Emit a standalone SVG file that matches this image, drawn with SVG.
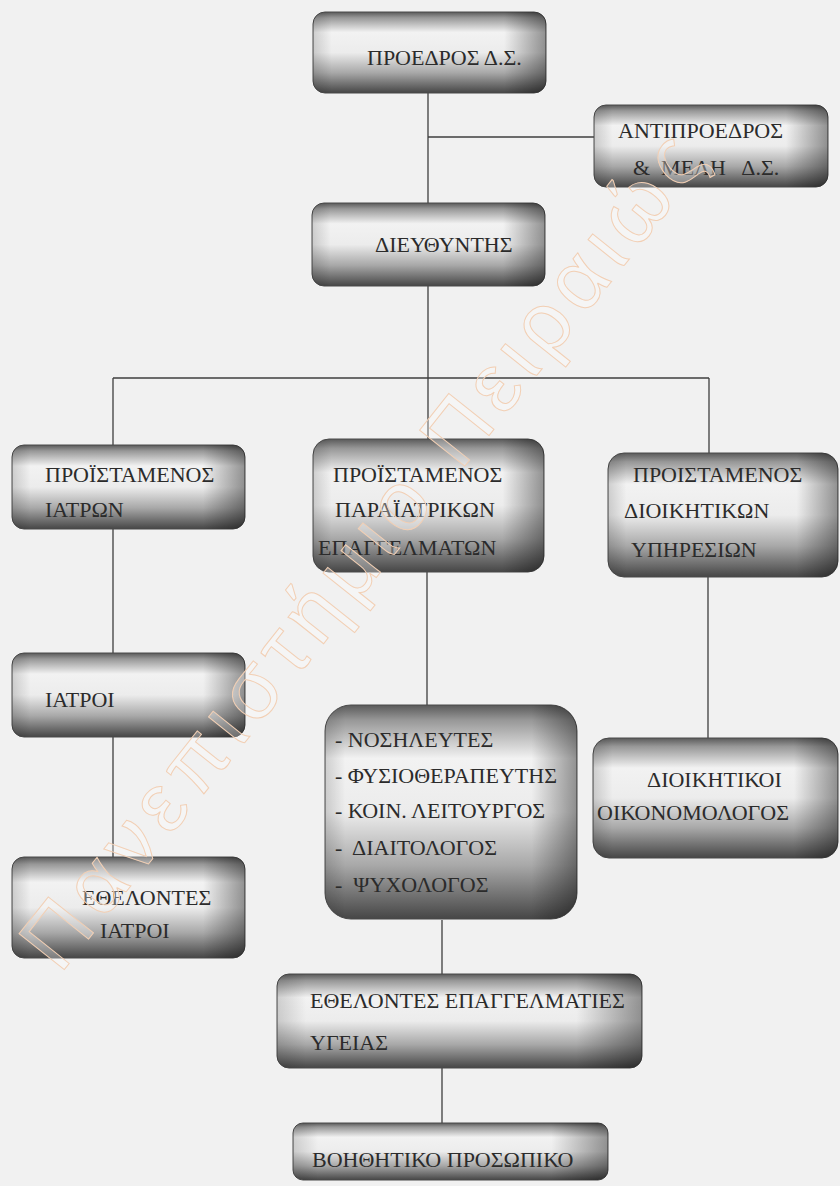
<svg xmlns="http://www.w3.org/2000/svg" width="840" height="1186" viewBox="0 0 840 1186">
<defs>
<linearGradient id="gv" x1="0" y1="0" x2="0" y2="1">
<stop offset="0" stop-color="#5a5a5a"/>
<stop offset="0.07" stop-color="#979797"/>
<stop offset="0.25" stop-color="#f2f2f2"/>
<stop offset="0.5" stop-color="#ececec"/>
<stop offset="0.75" stop-color="#a8a8a8"/>
<stop offset="1" stop-color="#464646"/>
</linearGradient>
<linearGradient id="gh" x1="0" y1="0" x2="1" y2="0">
<stop offset="0" stop-color="#000" stop-opacity="0.15"/>
<stop offset="0.08" stop-color="#000" stop-opacity="0"/>
<stop offset="0.82" stop-color="#000" stop-opacity="0"/>
<stop offset="1" stop-color="#000" stop-opacity="0.4"/>
</linearGradient>
<style>
.bg{fill:url(#gv);stroke:#4a4a4a;stroke-width:1}
.sh{fill:url(#gh)}
.t{font-family:"Liberation Serif","DejaVu Serif",serif;font-size:22px;fill:#2b2b2b;white-space:pre}
.c line{stroke:#3e3e3e;stroke-width:1.3}
.wm{font-family:"Liberation Sans","DejaVu Sans",sans-serif;font-size:84px;fill:#ffffff;fill-opacity:0.3;stroke:#f2cfb4;stroke-width:1}
</style>
</defs>
<rect width="840" height="1186" fill="#f1f1f1"/>

<g class="c" id="connectors">
<line x1="428" y1="93" x2="428" y2="203"/>
<line x1="428" y1="137" x2="594" y2="137"/>
<line x1="428" y1="286" x2="428" y2="378"/>
<line x1="113" y1="378" x2="709" y2="378"/>
<line x1="113" y1="378" x2="113" y2="445"/>
<line x1="428" y1="378" x2="428" y2="439"/>
<line x1="709" y1="378" x2="709" y2="453"/>
<line x1="113" y1="529" x2="113" y2="653"/>
<line x1="113" y1="737" x2="113" y2="857"/>
<line x1="427" y1="572" x2="427" y2="705"/>
<line x1="708" y1="577" x2="708" y2="738"/>
<line x1="442" y1="920" x2="442" y2="974"/>
<line x1="442" y1="1068" x2="442" y2="1123"/>
</g>

<g id="n-proedros">
<rect class="bg" x="313" y="12" width="233" height="81" rx="12"/>
<rect class="sh" x="313" y="12" width="233" height="81" rx="12"/>
<text class="t" x="367" y="65">ΠΡΟΕΔΡΟΣ Δ.Σ.</text>
</g>
<g id="n-antiproedros">
<rect class="bg" x="594" y="105" width="234" height="82" rx="12"/>
<rect class="sh" x="594" y="105" width="234" height="82" rx="12"/>
<text class="t" x="618" y="138">ΑΝΤΙΠΡΟΕΔΡΟΣ</text>
<text class="t" x="633" y="175">&amp;  ΜΕΛΗ   Δ.Σ.</text>
</g>
<g id="n-dieythyntis">
<rect class="bg" x="312" y="203" width="233" height="83" rx="12"/>
<rect class="sh" x="312" y="203" width="233" height="83" rx="12"/>
<text class="t" x="375" y="252">ΔΙΕΥΘΥΝΤΗΣ</text>
</g>
<g id="n-pro-iatron">
<rect class="bg" x="12" y="445" width="233" height="84" rx="12"/>
<rect class="sh" x="12" y="445" width="233" height="84" rx="12"/>
<text class="t" x="45" y="482">ΠΡΟΪΣΤΑΜΕΝΟΣ</text>
<text class="t" x="45" y="517">ΙΑΤΡΩΝ</text>
</g>
<g id="n-pro-paraiatrikon">
<rect class="bg" x="313" y="439" width="231" height="133" rx="16"/>
<rect class="sh" x="313" y="439" width="231" height="133" rx="16"/>
<text class="t" x="333" y="482">ΠΡΟΪΣΤΑΜΕΝΟΣ</text>
<text class="t" x="335" y="517">ΠΑΡΑΪΑΤΡΙΚΩΝ</text>
<text class="t" x="318" y="555">ΕΠΑΓΓΕΛΜΑΤΩΝ</text>
</g>
<g id="n-pro-dioikitikon">
<rect class="bg" x="608" y="453" width="230" height="124" rx="16"/>
<rect class="sh" x="608" y="453" width="230" height="124" rx="16"/>
<text class="t" x="633" y="482">ΠΡΟΙΣΤΑΜΕΝΟΣ</text>
<text class="t" x="624" y="518">ΔΙΟΙΚΗΤΙΚΩΝ</text>
<text class="t" x="631" y="557">ΥΠΗΡΕΣΙΩΝ</text>
</g>
<g id="n-iatroi">
<rect class="bg" x="12" y="653" width="233" height="84" rx="12"/>
<rect class="sh" x="12" y="653" width="233" height="84" rx="12"/>
<text class="t" x="45" y="707">ΙΑΤΡΟΙ</text>
</g>
<g id="n-ethelontes-iatroi">
<rect class="bg" x="12" y="857" width="233" height="101" rx="12"/>
<rect class="sh" x="12" y="857" width="233" height="101" rx="12"/>
<text class="t" x="82" y="905">ΕΘΕΛΟΝΤΕΣ</text>
<text class="t" x="100" y="938">ΙΑΤΡΟΙ</text>
</g>
<g id="n-nosileytes">
<rect class="bg" x="325" y="705" width="252" height="214" rx="26"/>
<rect class="sh" x="325" y="705" width="252" height="214" rx="26"/>
<text class="t" x="335" y="747">- ΝΟΣΗΛΕΥΤΕΣ</text>
<text class="t" x="335" y="783">- ΦΥΣΙΟΘΕΡΑΠΕΥΤΗΣ</text>
<text class="t" x="335" y="818">- ΚΟΙΝ. ΛΕΙΤΟΥΡΓΟΣ</text>
<text class="t" x="335" y="855">-  ΔΙΑΙΤΟΛΟΓΟΣ</text>
<text class="t" x="335" y="892">-  ΨΥΧΟΛΟΓΟΣ</text>
</g>
<g id="n-dioikitikoi">
<rect class="bg" x="593" y="738" width="245" height="120" rx="16"/>
<rect class="sh" x="593" y="738" width="245" height="120" rx="16"/>
<text class="t" x="647" y="787">ΔΙΟΙΚΗΤΙΚΟΙ</text>
<text class="t" x="597" y="820">ΟΙΚΟΝΟΜΟΛΟΓΟΣ</text>
</g>
<g id="n-ethelontes-epaggelmaties">
<rect class="bg" x="277" y="974" width="365" height="94" rx="12"/>
<rect class="sh" x="277" y="974" width="365" height="94" rx="12"/>
<text class="t" x="310" y="1008">ΕΘΕΛΟΝΤΕΣ ΕΠΑΓΓΕΛΜΑΤΙΕΣ</text>
<text class="t" x="310" y="1050">ΥΓΕΙΑΣ</text>
</g>
<g id="n-voithitiko">
<rect class="bg" x="293" y="1123" width="315" height="57" rx="10"/>
<rect class="sh" x="293" y="1123" width="315" height="57" rx="10"/>
<text class="t" x="312" y="1167">ΒΟΗΘΗΤΙΚΟ ΠΡΟΣΩΠΙΚΟ</text>
</g>

<g id="watermark">
<text class="wm" transform="translate(60,975) rotate(-51.5)" textLength="1040" lengthAdjust="spacing">Πανεπιστήμιο Πειραιώς</text>
</g>
</svg>
